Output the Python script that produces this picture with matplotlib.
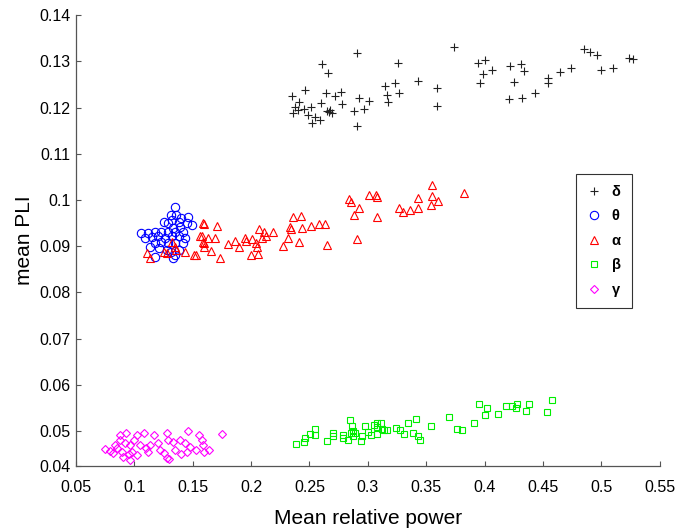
import matplotlib
matplotlib.use('Agg')
import matplotlib.pyplot as plt

plt.rcParams['font.family'] = ['Liberation Sans', 'DejaVu Sans']

# mean relative power (x) and mean PLI (y) for each frequency band
delta_x = [0.235, 0.246, 0.241, 0.238, 0.236, 0.245, 0.251, 0.249, 0.252, 0.259,
           0.261, 0.266, 0.264, 0.260, 0.268, 0.269, 0.272, 0.277, 0.278, 0.291,
           0.292, 0.301, 0.288, 0.297, 0.291, 0.315, 0.323, 0.316, 0.317, 0.327,
           0.326, 0.343, 0.359, 0.359, 0.374, 0.394, 0.400, 0.399, 0.406, 0.396,
           0.422, 0.431, 0.434, 0.425, 0.421, 0.432, 0.443, 0.454, 0.454, 0.465,
           0.474, 0.485, 0.490, 0.496, 0.500, 0.510, 0.524, 0.527, 0.265, 0.267,
           0.240, 0.255]
delta_y = [0.1226, 0.1238, 0.1213, 0.1202, 0.1189, 0.1198, 0.1201, 0.1184, 0.1166, 0.1173,
           0.1294, 0.1274, 0.1231, 0.1209, 0.1195, 0.1189, 0.1224, 0.1234, 0.1208, 0.1318,
           0.1220, 0.1215, 0.1193, 0.1196, 0.1161, 0.1247, 0.1254, 0.1227, 0.1213, 0.1232,
           0.1296, 0.1258, 0.1242, 0.1204, 0.1331, 0.1297, 0.1302, 0.1272, 0.1281, 0.1253,
           0.1289, 0.1294, 0.1279, 0.1255, 0.1218, 0.1220, 0.1232, 0.1263, 0.1253, 0.1277,
           0.1286, 0.1327, 0.1320, 0.1314, 0.1281, 0.1286, 0.1307, 0.1305, 0.1193, 0.1190,
           0.1195, 0.1180]

theta_x = [0.135, 0.131, 0.136, 0.140, 0.146, 0.149, 0.145, 0.129, 0.125, 0.139,
           0.142, 0.135, 0.129, 0.123, 0.118, 0.112, 0.106, 0.109, 0.115, 0.120,
           0.126, 0.132, 0.138, 0.143, 0.135, 0.129, 0.123, 0.118, 0.113, 0.118,
           0.131, 0.133, 0.135, 0.138, 0.142, 0.128, 0.121, 0.132, 0.138, 0.133]
theta_y = [0.0985, 0.0968, 0.0968, 0.0960, 0.0964, 0.0946, 0.0950, 0.0950, 0.0953, 0.0942,
           0.0931, 0.0931, 0.0931, 0.0931, 0.0931, 0.0928, 0.0928, 0.0917, 0.0919, 0.0921,
           0.0917, 0.0921, 0.0921, 0.0917, 0.0906, 0.0906, 0.0910, 0.0906, 0.0899, 0.0876,
           0.0888, 0.0874, 0.0881, 0.0892, 0.0906, 0.0892, 0.0895, 0.0957, 0.0953, 0.0939]

alpha_x = [0.111, 0.113, 0.125, 0.132, 0.135, 0.128, 0.136, 0.143, 0.151, 0.159,
           0.158, 0.159, 0.160, 0.171, 0.156, 0.163, 0.169, 0.160, 0.160, 0.166,
           0.173, 0.153, 0.180, 0.186, 0.190, 0.195, 0.196, 0.201, 0.204, 0.205,
           0.200, 0.206, 0.207, 0.211, 0.213, 0.219, 0.209, 0.227, 0.232, 0.233,
           0.234, 0.236, 0.243, 0.244, 0.241, 0.251, 0.258, 0.263, 0.265, 0.284,
           0.286, 0.292, 0.288, 0.291, 0.301, 0.307, 0.308, 0.308, 0.327, 0.330,
           0.336, 0.343, 0.343, 0.355, 0.355, 0.360, 0.354, 0.382]
alpha_y = [0.0885, 0.0874, 0.0888, 0.0910, 0.0899, 0.0885, 0.0892, 0.0888, 0.0881, 0.0950,
           0.0921, 0.0910, 0.0947, 0.0944, 0.0921, 0.0918, 0.0918, 0.0906, 0.0899, 0.0890,
           0.0874, 0.0881, 0.0904, 0.0911, 0.0899, 0.0918, 0.0911, 0.0916, 0.0906, 0.0899,
           0.0881, 0.0882, 0.0937, 0.0930, 0.0921, 0.0931, 0.0918, 0.0901, 0.0918, 0.0942,
           0.0937, 0.0964, 0.0966, 0.0940, 0.0910, 0.0944, 0.0948, 0.0948, 0.0903, 0.1002,
           0.0995, 0.0982, 0.0968, 0.0915, 0.1011, 0.1011, 0.1007, 0.0964, 0.0982, 0.0973,
           0.0978, 0.1004, 0.0982, 0.1032, 0.1009, 0.0998, 0.0989, 0.1014]

beta_x = [0.2385, 0.2454, 0.2462, 0.2505, 0.2548, 0.2548, 0.2648, 0.2700, 0.2705, 0.2785,
          0.2791, 0.2834, 0.2848, 0.2862, 0.2854, 0.2871, 0.2891, 0.2940, 0.2948, 0.2977,
          0.3025, 0.3054, 0.3077, 0.3077, 0.3111, 0.3120, 0.3139, 0.3168, 0.3242, 0.3276,
          0.3311, 0.3347, 0.3390, 0.3413, 0.3433, 0.3448, 0.3539, 0.3699, 0.3762, 0.3805,
          0.3911, 0.3953, 0.4025, 0.4005, 0.4116, 0.4185, 0.4233, 0.4276, 0.4270, 0.4353,
          0.4379, 0.4533, 0.4576, 0.2870, 0.3080, 0.3000]
beta_y = [0.0471, 0.0475, 0.0484, 0.0494, 0.0504, 0.0491, 0.0479, 0.0488, 0.0495, 0.0491,
          0.0484, 0.0481, 0.0524, 0.0511, 0.0496, 0.0488, 0.0495, 0.0477, 0.0489, 0.0511,
          0.0490, 0.0513, 0.0517, 0.0493, 0.0518, 0.0504, 0.0502, 0.0502, 0.0506, 0.0502,
          0.0494, 0.0518, 0.0495, 0.0525, 0.0488, 0.0481, 0.0511, 0.0531, 0.0504, 0.0501,
          0.0517, 0.0558, 0.0549, 0.0535, 0.0537, 0.0554, 0.0553, 0.0558, 0.0549, 0.0544,
          0.0558, 0.0540, 0.0566, 0.0500, 0.0508, 0.0498]

gamma_x = [0.075, 0.079, 0.083, 0.088, 0.088, 0.093, 0.092, 0.089, 0.090, 0.096,
           0.098, 0.096, 0.100, 0.102, 0.108, 0.105, 0.102, 0.112, 0.113, 0.117,
           0.120, 0.122, 0.128, 0.129, 0.128, 0.133, 0.135, 0.139, 0.143, 0.145,
           0.146, 0.148, 0.155, 0.158, 0.159, 0.153, 0.160, 0.164, 0.175, 0.082,
           0.085, 0.095, 0.110, 0.125, 0.140, 0.130]
gamma_y = [0.0460, 0.0457, 0.0470, 0.0481, 0.0492, 0.0495, 0.0473, 0.0455, 0.0444, 0.0437,
           0.0455, 0.0470, 0.0481, 0.0492, 0.0495, 0.0470, 0.0448, 0.0455, 0.0470, 0.0490,
           0.0473, 0.0459, 0.0495, 0.0481, 0.0441, 0.0475, 0.0459, 0.0481, 0.0473, 0.0455,
           0.0499, 0.0466, 0.0492, 0.0481, 0.0470, 0.0459, 0.0455, 0.0459, 0.0494, 0.0452,
           0.0463, 0.0450, 0.0462, 0.0452, 0.0450, 0.0440]

x_ticks = [0.05, 0.1, 0.15, 0.2, 0.25, 0.3, 0.35, 0.4, 0.45, 0.5, 0.55]
x_labels = ['0.05', '0.1', '0.15', '0.2', '0.25', '0.3', '0.35', '0.4', '0.45', '0.5', '0.55']
y_bottom = 0.0424
y_ticks = [y_bottom, 0.05, 0.06, 0.07, 0.08, 0.09, 0.1, 0.11, 0.12, 0.13, 0.14]
y_labels = ['0.04', '0.05', '0.06', '0.07', '0.08', '0.09', '0.1', '0.11', '0.12', '0.13', '0.14']

fig = plt.figure(figsize=(6.75, 5.3), dpi=100)
ax = fig.add_axes([0.1126, 0.1208, 0.8647, 0.8505])

lw = 0.8
ax.plot(delta_x, delta_y, linestyle='none', marker='+', ms=6.0, mew=lw, color='#222222', label='δ')
ax.plot(theta_x, theta_y, linestyle='none', marker='o', ms=6.0, mew=lw, mfc='none', color='blue', label='θ')
ax.plot(alpha_x, alpha_y, linestyle='none', marker='^', ms=6.0, mew=lw, mfc='none', color='red', label='α')
ax.plot(beta_x, beta_y, linestyle='none', marker='s', ms=4.8, mew=lw, mfc='none', color='#00ee00', label='β')
ax.plot(gamma_x, gamma_y, linestyle='none', marker='D', ms=4.0, mew=lw, mfc='none', color='magenta', label='γ')

ax.set_xlim(0.05, 0.55)
ax.set_ylim(y_bottom, 0.14)
ax.set_xticks(x_ticks)
ax.set_xticklabels(x_labels)
ax.set_yticks(y_ticks)
ax.set_yticklabels(y_labels)

for side in ['top', 'right']:
    ax.spines[side].set_visible(False)
for side in ['left', 'bottom']:
    ax.spines[side].set_color('#555555')
    ax.spines[side].set_linewidth(0.9)
ax.tick_params(direction='in', length=3.5, width=0.8, color='#555555',
               labelsize=11.5, labelcolor='black')
ax.tick_params(axis='x', pad=10)
ax.tick_params(axis='y', pad=4)

ax.set_xlabel('Mean relative power', fontsize=15, labelpad=10)
ax.set_ylabel('mean PLI', fontsize=15, labelpad=4)

leg = ax.legend(loc='upper left', bbox_to_anchor=(0.8566, 0.6477), frameon=True,
                fancybox=False, edgecolor='black', handlelength=1.0,
                handletextpad=0.7, labelspacing=0.72, borderpad=0.75, borderaxespad=0,
                prop={'weight': 'bold', 'size': 10.5})
leg.get_frame().set_linewidth(0.8)

fig.savefig('out.png', dpi=100)
